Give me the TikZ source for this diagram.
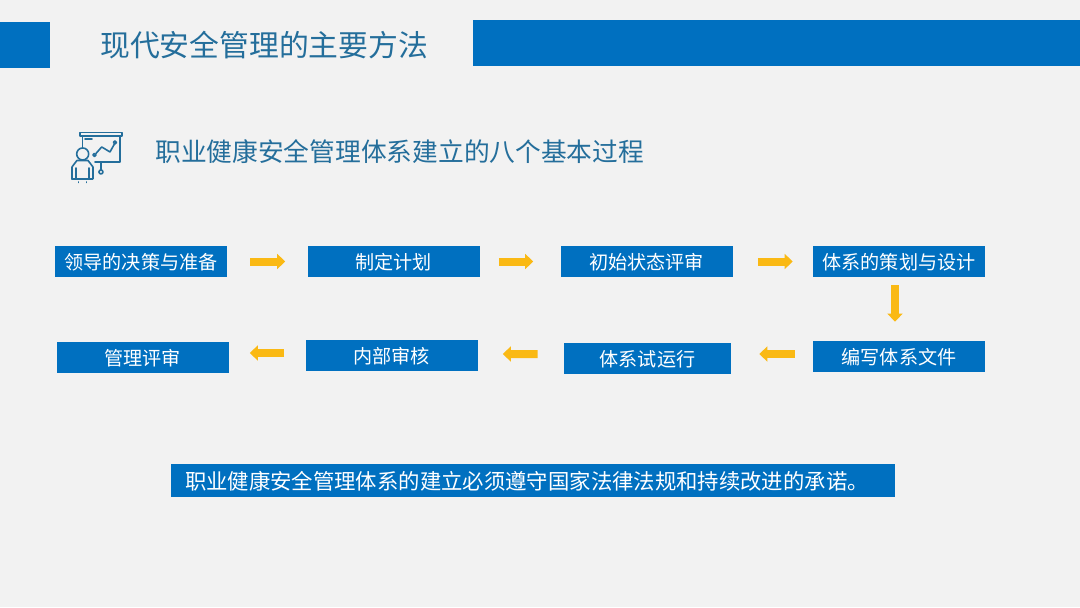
\documentclass[tikz,border=0pt]{standalone}
\usepackage{fontspec}
\newfontfamily\cjk{Noto Sans CJK SC}
\usetikzlibrary{arrows.meta,positioning}
\definecolor{slidegray}{RGB}{242,242,242}
\definecolor{slideblue}{RGB}{0,112,192}
\definecolor{headblue}{RGB}{36,110,155}
\definecolor{flowgold}{RGB}{250,185,20}
\tikzset{
  stepbox/.style={fill=slideblue, text=white, minimum width=4.3cm, minimum height=0.775cm,
    inner sep=0pt, text depth=0pt, font=\cjk\fontsize{13.6}{16}\selectfont},
  headline/.style={anchor=west, inner sep=0pt, text=headblue},
  flow/.style={-{Triangle[length=0.2cm,width=0.37cm]}, line width=0.2cm, draw=flowgold,
    shorten >=0.55cm, shorten <=0.575cm},
  iconline/.style={draw=headblue, line width=0.04cm, line cap=round, line join=round}
}
\begin{document}
\begin{tikzpicture}
    \useasboundingbox[fill=slidegray] (0,0) rectangle (27,15.175);
    \fill[slideblue] (0,13.475) rectangle (1.25,14.625);
    \fill[slideblue] (11.825,13.525) rectangle (27,14.675);

    \node[headline, font=\cjk\fontsize{21.2}{25}\selectfont] (title) at (2.5,14.05)
      {现代安全管理的主要方法};
    \node[headline, font=\cjk\fontsize{18.3}{22}\selectfont] (subtitle) at (3.875,11.375)
      {职业健康安全管理体系建立的八个基本过程};

    % presenter icon
    \begin{scope}[shift={(0,15.175)}, x=0.025cm, y=-0.025cm]
      \draw[iconline] (80,132.5) rectangle (122,136);
      \draw[iconline] (82.5,136) -- (82.5,148);
      \draw[iconline] (120,136) -- (120,162) -- (95,162);
      \draw[iconline] (101,162) -- (101,170);
      \draw[iconline] (101,172) circle (2);
      \draw[iconline] (96,153.5) -- (101.7,147) -- (110,152) -- (114.2,144.5);
      \draw[iconline] (94.5,155) circle (1.6);
      \draw[iconline] (115,142.5) circle (1.6);
      \draw[iconline] (85,138.8) -- (92,138.8);
      \draw[iconline] (82.7,154) circle (6);
      \draw[iconline] (72,179) -- (72,167) -- (77,160.5) -- (88,160.5) -- (93,167) -- (93,179)
        -- (89,179) -- (89,168);
      \draw[iconline] (72,179) -- (76,179) -- (76,168);
      \draw[iconline] (76,179) -- (89,179);
      \draw[iconline] (78.5,182) -- (78.5,182.5);
      \draw[iconline] (86.5,182) -- (86.5,182.5);
    \end{scope}

    \node[stepbox] (decision) at (3.525,8.6375) {领导的决策与准备};
    \node[stepbox] (plan) at (9.8375,8.6375) {制定计划};
    \node[stepbox] (review) at (16.1625,8.6375) {初始状态评审};
    \node[stepbox] (design) at (22.475,8.6375) {体系的策划与设计};
    \node[stepbox] (docs) at (22.475,6.2625) {编写体系文件};
    \node[stepbox, minimum width=4.175cm] (trial) at (16.1875,6.2125) {体系试运行};
    \node[stepbox] (audit) at (9.7875,6.2875) {内部审核};
    \node[stepbox] (mgmt) at (3.5625,6.2375) {管理评审};

    \draw[flow] (decision.east) -- (plan.west);
    \draw[flow, shorten <=0.475cm, shorten >=0.675cm] (plan.east) -- (review.west);
    \draw[flow, shorten <=0.625cm, shorten >=0.5cm] (review.east) -- (design.west);
    \draw[flow, shorten <=0.2cm, shorten >=0.475cm] ([xshift=-0.1cm]design.south) -- ([xshift=-0.1cm]docs.north);
    \draw[flow, shorten <=0.45cm, shorten >=0.7cm] ([yshift=0.0625cm]docs.west) -- ([yshift=0.1125cm]trial.east);
    \draw[flow, shorten <=0.65cm, shorten >=0.625cm] ([yshift=0.1125cm]trial.west) -- ([yshift=0.0375cm]audit.east);
    \draw[flow, shorten <=0.525cm, shorten >=0.525cm] ([yshift=0.0625cm]audit.west) -- ([yshift=0.1125cm]mgmt.east);

    \node[stepbox, minimum width=18.1cm, minimum height=0.825cm, text width=17.4cm, align=left,
      font=\cjk\fontsize{15.2}{18}\selectfont] (pledge) at (13.325,3.1625)
      {职业健康安全管理体系的建立必须遵守国家法律法规和持续改进的承诺。};
\end{tikzpicture}
\end{document}
